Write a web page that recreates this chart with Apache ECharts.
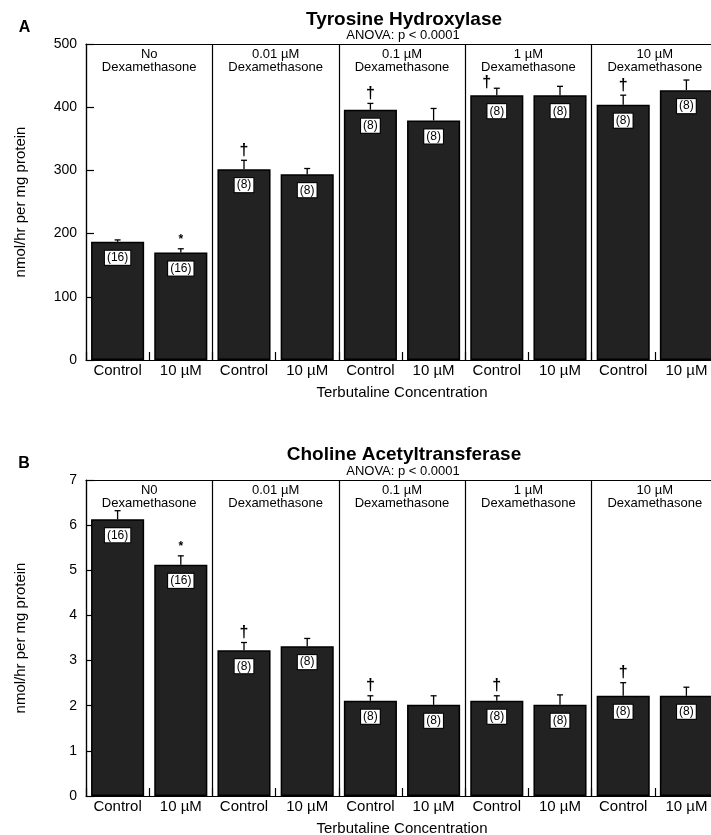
<!DOCTYPE html>
<html>
<head>
<meta charset="utf-8">
<script src="https://cdn.jsdelivr.net/npm/echarts@6/dist/echarts.min.js"></script>
<style>
  html, body { margin: 0; padding: 0; background: #fff; }
  #chart { width: 711px; height: 835px; }
</style>
</head>
<body>
<div id="chart"></div>
<script>
// Terbutaline treatment within each dexamethasone group
const treatments = ['Control', '10 µM', 'Control', '10 µM', 'Control', '10 µM', 'Control', '10 µM', 'Control', '10 µM'];
const groupsTH = ['No\nDexamethasone', '0.01 µM\nDexamethasone', '0.1 µM\nDexamethasone', '1 µM\nDexamethasone', '10 µM\nDexamethasone'];
const groupsChAT = ['N0\nDexamethasone', '0.01 µM\nDexamethasone', '0.1 µM\nDexamethasone', '1 µM\nDexamethasone', '10 µM\nDexamethasone'];

// Tyrosine hydroxylase activity (nmol/hr per mg protein), mean and SE
const thMean = [187, 170, 302, 294, 396, 379, 419, 419, 404, 427];
const thSE = [3, 6, 14, 9, 10, 19, 11, 14, 15, 16];
const thN = ['(16)', '(16)', '(8)', '(8)', '(8)', '(8)', '(8)', '(8)', '(8)', '(8)'];
const thSig = ['', '*', '†', '', '†', '', '†', '', '†', ''];

// Choline acetyltransferase activity (nmol/hr per mg protein), mean and SE
const chatMean = [6.13, 5.12, 3.23, 3.32, 2.11, 2.02, 2.11, 2.02, 2.22, 2.22];
const chatSE = [0.19, 0.20, 0.17, 0.17, 0.11, 0.20, 0.11, 0.22, 0.29, 0.19];
const chatN = ['(16)', '(16)', '(8)', '(8)', '(8)', '(8)', '(8)', '(8)', '(8)', '(8)'];
const chatSig = ['', '*', '†', '', '†', '', '†', '', '†', ''];

const FONT = '"Liberation Sans", Arial, Helvetica, sans-serif';
const INK = '#000';
const axisLineStyle = { color: INK, width: 1.2 };

// where a significance symbol sits relative to the top of its error bar
function symbolOffset(panel, idx, sym) {
  if (panel === 0 && idx === 6) return [-10, -6];
  return sym === '*' ? [0, -9] : [0, -10];
}

function barSeries(gi, means, ns) {
  return {
    type: 'bar', xAxisIndex: gi * 2, yAxisIndex: gi,
    data: means, barWidth: '84%',
    itemStyle: { color: '#222', borderColor: INK, borderWidth: 1.5 },
    label: {
      show: true, position: 'insideTop', distance: 9,
      formatter: p => ns[p.dataIndex],
      fontFamily: FONT, fontSize: 12, lineHeight: 12, color: INK,
      backgroundColor: '#fff', borderColor: INK, borderWidth: 1, padding: [1, 2, 1, 2]
    },
    z: 2
  };
}

function errorSeries(gi, means, se, sig) {
  return {
    type: 'custom', xAxisIndex: gi * 2, yAxisIndex: gi,
    data: means.map((m, i) => [i, m, m + se[i]]),
    renderItem(params, api) {
      const i = api.value(0);
      const base = api.coord([i, api.value(1)]);
      const top = api.coord([i, api.value(2)]);
      const ls = { stroke: INK, lineWidth: 1.3 };
      const children = [
        { type: 'line', shape: { x1: base[0], y1: base[1], x2: top[0], y2: top[1] }, style: ls },
        { type: 'line', shape: { x1: top[0] - 3, y1: top[1], x2: top[0] + 3, y2: top[1] }, style: ls }
      ];
      const s = sig[i];
      if (s) {
        const off = symbolOffset(gi, i, s);
        children.push({
          type: 'text', x: top[0] + off[0], y: top[1] + off[1],
          style: { text: s, fill: INK, fontFamily: FONT, fontWeight: 'bold',
                   fontSize: s === '*' ? 12 : 16, align: 'center', verticalAlign: 'middle' }
        });
      }
      return { type: 'group', children };
    },
    z: 5
  };
}

function xAxes(gi, groups) {
  return [
    {
      gridIndex: gi, type: 'category', data: treatments, position: 'bottom',
      axisLine: { show: true, lineStyle: axisLineStyle },
      axisTick: { show: true, inside: true, length: 8, interval: 0, lineStyle: axisLineStyle },
      axisLabel: { interval: 0, color: INK, fontFamily: FONT, fontSize: 15, margin: 3 },
      splitLine: { show: false },
      name: 'Terbutaline Concentration', nameLocation: 'middle', nameGap: 25,
      nameMoveOverlap: false,
      nameTextStyle: { color: INK, fontFamily: FONT, fontSize: 15 }
    },
    {
      gridIndex: gi, type: 'category', data: groups, position: 'top',
      axisLine: { show: true, lineStyle: axisLineStyle },
      axisTick: { show: false },
      axisLabel: { interval: 0, inside: true, margin: 4, color: INK, fontFamily: FONT, fontSize: 13, lineHeight: 13 },
      splitLine: { show: true, interval: 0, lineStyle: { color: INK, width: 1.2 } }
    }
  ];
}

function yAxis(gi, max, step) {
  return {
    gridIndex: gi, type: 'value', min: 0, max: max, interval: step,
    axisLine: { show: true, lineStyle: axisLineStyle },
    axisTick: { show: true, inside: true, length: 8, lineStyle: axisLineStyle },
    splitLine: { show: false },
    axisLabel: { color: INK, fontFamily: FONT, fontSize: 14, margin: 9 },
    name: 'nmol/hr per mg protein', nameLocation: 'middle', nameGap: 58, nameRotate: 90,
    nameTextStyle: { color: INK, fontFamily: FONT, fontSize: 15 }
  };
}

function heading(x, y, text, size, bold) {
  return {
    type: 'text', x: x, y: y,
    style: { text: text, fill: INK, fontFamily: FONT, fontSize: size,
             fontWeight: bold ? 'bold' : 'normal', align: 'center', verticalAlign: 'middle' }
  };
}

const chart = echarts.init(document.getElementById('chart'), null, { renderer: 'canvas' });
chart.setOption({
  backgroundColor: '#fff',
  animation: false,
  grid: [
    { left: 86, top: 44, width: 632, height: 316, outerBoundsMode: 'none', containLabel: false },
    { left: 86, top: 480, width: 632, height: 316, outerBoundsMode: 'none', containLabel: false }
  ],
  xAxis: [...xAxes(0, groupsTH), ...xAxes(1, groupsChAT)],
  yAxis: [yAxis(0, 500, 100), yAxis(1, 7, 1)],
  series: [
    barSeries(0, thMean, thN), errorSeries(0, thMean, thSE, thSig),
    barSeries(1, chatMean, chatN), errorSeries(1, chatMean, chatSE, chatSig)
  ],
  graphic: [
    heading(24.5, 27.5, 'A', 16, true),
    heading(404, 20, 'Tyrosine Hydroxylase', 19, true),
    heading(403, 35.5, 'ANOVA: p < 0.0001', 13, false),
    heading(24, 463.5, 'B', 16, true),
    heading(404, 454.5, 'Choline Acetyltransferase', 19, true),
    heading(403, 471.5, 'ANOVA: p < 0.0001', 13, false)
  ]
});
</script>
</body>
</html>
